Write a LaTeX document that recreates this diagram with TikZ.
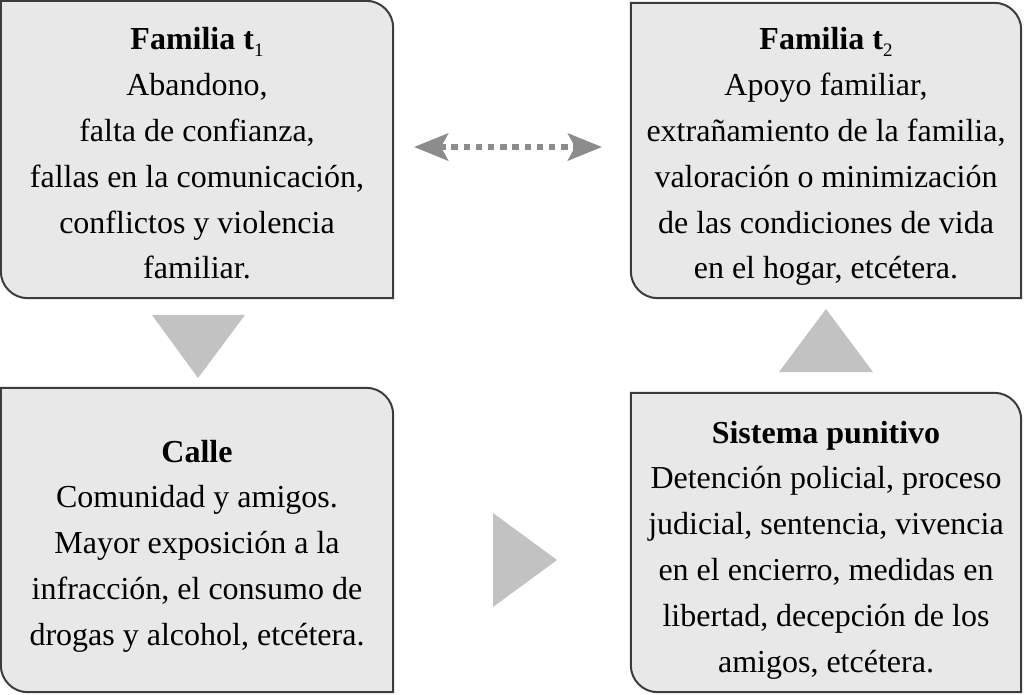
\documentclass[tikz,border=0pt]{standalone}
\usepackage{fontspec}
\setmainfont{Liberation Serif}
\usetikzlibrary{arrows.meta}
\definecolor{boxfill}{HTML}{E8E8E8}
\definecolor{boxline}{HTML}{3C3C3C}
\definecolor{trifill}{HTML}{C2C2C2}
\definecolor{dashcol}{HTML}{8C8C8C}
\tikzset{
  boxframe/.style={rectangle, inner sep=0pt, draw=none},
  boxpath/.style={fill=boxfill, draw=boxline, line width=2pt},
  boxtext/.style={anchor=base, inner sep=0pt, font=\fontsize{32}{45.8}\selectfont},
  bigtri/.style={fill=trifill, draw=none},
  dasharrow/.style={draw=dashcol, line width=6pt, line cap=butt,
    dash pattern=on 6.5pt off 5.7pt,
    {Stealth[length=34pt,width=27pt,inset=7pt,fill=dashcol]}-{Stealth[length=34pt,width=27pt,inset=7pt,fill=dashcol]}}
}
\newcommand{\roundbox}[2]{%
  \path[boxpath] (#1.north west) -- ([xshift=-#2]#1.north east)
    arc[start angle=90,end angle=0,radius=#2] -- (#1.south east)
    -- ([xshift=#2]#1.south west) arc[start angle=270,end angle=180,radius=#2] -- cycle;}
\newcommand{\subnum}[1]{\raisebox{-7pt}{\normalfont\fontsize{19}{19}\selectfont #1}}
\begin{document}
\begin{tikzpicture}[x=1pt,y=1pt]
\useasboundingbox (0,0) rectangle (1024,694);
% frames
\node[boxframe, minimum width=392pt, minimum height=297pt] (b1) at (197,544.5) {};
\node[boxframe, minimum width=390pt, minimum height=295pt] (b2) at (826,543.5) {};
\node[boxframe, minimum width=392pt, minimum height=304pt] (b3) at (197,154) {};
\node[boxframe, minimum width=390pt, minimum height=299pt] (b4) at (826,151.5) {};
\roundbox{b1}{27pt}
\roundbox{b2}{27pt}
\roundbox{b3}{27pt}
\roundbox{b4}{27pt}
% texts
\node[boxtext] (t1) at (197,644) {\begin{tabular}[t]{@{}c@{}}\textbf{Familia t}\subnum{1}\\Abandono,\\falta de confianza,\\fallas en la comunicación,\\conflictos y violencia\\familiar.\end{tabular}};
\node[boxtext] (t2) at (826,644) {\begin{tabular}[t]{@{}c@{}}\textbf{Familia t}\subnum{2}\\Apoyo familiar,\\extrañamiento de la familia,\\valoración o minimización\\de las condiciones de vida\\en el hogar, etcétera.\end{tabular}};
\node[boxtext] (t3) at (197,232) {\begin{tabular}[t]{@{}c@{}}\textbf{Calle}\\Comunidad y amigos.\\Mayor exposición a la\\infracción, el consumo de\\drogas y alcohol, etcétera.\end{tabular}};
\node[boxtext] (t4) at (826,251) {\begin{tabular}[t]{@{}c@{}}\textbf{Sistema punitivo}\\Detención policial, proceso\\judicial, sentencia, vivencia\\en el encierro, medidas en\\libertad, decepción de los\\amigos, etcétera.\end{tabular}};
% big triangle arrows
\coordinate (d1) at (152,379); \coordinate (d2) at (245,379); \coordinate (d3) at (198,316);
\fill[bigtri] (d1) -- (d2) -- (d3) -- cycle;
\coordinate (u1) at (779,322); \coordinate (u2) at (873,322); \coordinate (u3) at (826,385);
\fill[bigtri] (u1) -- (u2) -- (u3) -- cycle;
\coordinate (r1) at (493,181); \coordinate (r2) at (493,87); \coordinate (r3) at (557,134);
\fill[bigtri] (r1) -- (r2) -- (r3) -- cycle;
% dashed double arrow
\coordinate (a1) at (414,547);
\coordinate (a2) at (602,547);
\draw[dasharrow] (a1) -- (a2);
\end{tikzpicture}
\end{document}
